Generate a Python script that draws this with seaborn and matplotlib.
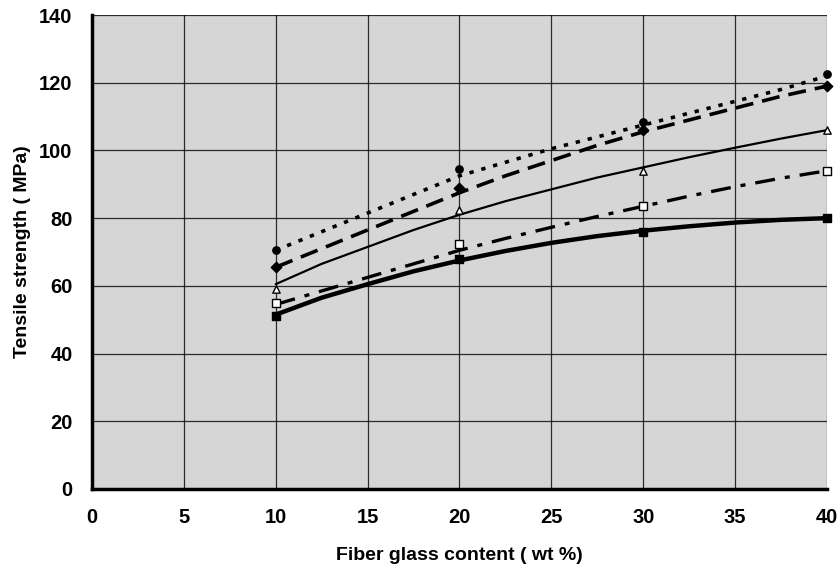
import pandas as pd
import matplotlib.pyplot as plt
import seaborn as sns

# measured points (fiber glass wt%)
x_pts = [10, 20, 30, 40]
s1_pts = [70.5, 94.5, 108.5, 122.5]   # dotted, filled circle
s2_pts = [65.5, 89.0, 106.0, 119.0]   # long dash, filled diamond
s3_pts = [59.0, 82.5, 94.0, 106.0]    # thin solid, open triangle
s4_pts = [55.0, 72.5, 83.5, 94.0]     # dash-dot, open square
s5_pts = [51.0, 68.0, 76.0, 80.0]     # thick solid, filled square

# fitted curves
x_fit = [10, 12.5, 15, 17.5, 20, 22.5, 25, 27.5, 30, 32.5, 35, 37.5, 40]
s1_fit = [70.5, 76.0, 81.5, 87.0, 92.5, 96.5, 100.5, 104.0, 107.5, 111.0, 114.5, 118.0, 122.0]
s2_fit = [65.5, 71.0, 76.5, 82.0, 87.5, 92.5, 97.0, 101.5, 105.5, 109.0, 112.5, 116.0, 119.0]
s3_fit = [60.5, 66.5, 71.5, 76.5, 81.0, 85.0, 88.5, 92.0, 95.0, 98.0, 100.8, 103.5, 106.0]
s4_fit = [54.5, 58.5, 62.5, 66.5, 70.5, 74.0, 77.3, 80.5, 83.5, 86.5, 89.3, 91.8, 94.0]
s5_fit = [51.5, 56.5, 60.5, 64.3, 67.5, 70.3, 72.7, 74.7, 76.3, 77.6, 78.7, 79.5, 80.0]

sns.set_style("white")
plt.rcParams['font.family'] = ['Liberation Sans', 'DejaVu Sans']
plt.rcParams['text.color'] = 'black'
plt.rcParams['axes.labelcolor'] = 'black'
plt.rcParams['xtick.color'] = 'black'
plt.rcParams['ytick.color'] = 'black'

fig = plt.figure(figsize=(8.4, 5.73), dpi=100)
ax = fig.add_axes([0.1095, 0.1466, 0.875, 0.8272])
ax.set_facecolor('#d6d6d6')

styles = [
    (s1_fit, s1_pts, (0, (1.2, 2.2)), 2.6, 'o', 'black'),
    (s2_fit, s2_pts, (0, (5, 2.5)), 2.6, 'D', 'black'),
    (s3_fit, s3_pts, '-', 1.6, '^', 'white'),
    (s4_fit, s4_pts, (0, (6, 3, 1.5, 3)), 2.4, 's', 'white'),
    (s5_fit, s5_pts, '-', 3.2, 's', 'black'),
]

for fit, pts, ls, lw, mk, mfc in styles:
    df_fit = pd.DataFrame({'x': x_fit, 'y': fit})
    df_pts = pd.DataFrame({'x': x_pts, 'y': pts})
    sns.lineplot(data=df_fit, x='x', y='y', ax=ax, color='black',
                 linestyle=ls, linewidth=lw)
    sns.scatterplot(data=df_pts, x='x', y='y', ax=ax, marker=mk, s=28,
                    color=mfc, edgecolor='black', linewidth=1.0, zorder=5,
                    clip_on=False)

ax.set_xlim(0, 40)
ax.set_ylim(0, 140)
ax.set_xticks(range(0, 41, 5))
ax.set_yticks(range(0, 141, 20))
ax.grid(True, color='black', linewidth=0.9, alpha=0.8)
ax.set_axisbelow(True)

for side in ['top', 'right']:
    ax.spines[side].set_visible(False)
for side in ['left', 'bottom']:
    ax.spines[side].set_linewidth(2.5)
    ax.spines[side].set_color('black')

ax.tick_params(axis='both', direction='out', length=6, width=2,
               labelsize=14.5, pad=8, colors='black')
for lab in ax.get_xticklabels() + ax.get_yticklabels():
    lab.set_fontweight('bold')

ax.set_xlabel('Fiber glass content ( wt %)', fontsize=14, fontweight='bold',
              labelpad=14)
ax.set_ylabel('Tensile strength ( MPa)', fontsize=14, fontweight='bold',
              labelpad=6)

fig.savefig('out.png', dpi=100)
